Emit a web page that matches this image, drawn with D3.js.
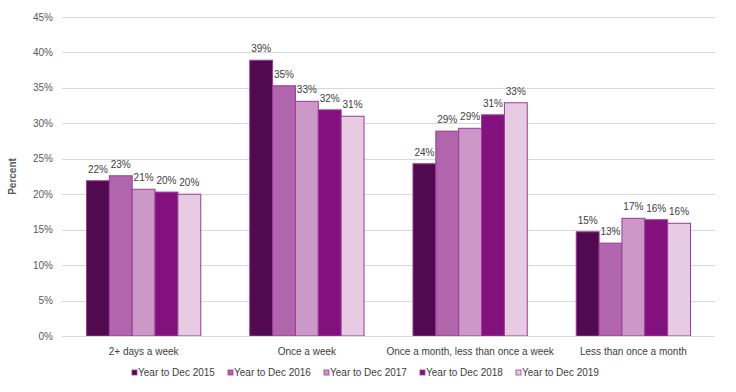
<!DOCTYPE html>
<html><head><meta charset="utf-8">
<script src="https://cdn.jsdelivr.net/npm/d3@7"></script>
<style>body{margin:0;background:#fff;} text{font-family:"Liberation Sans",Arial,sans-serif;}</style>
</head><body><svg id="c" width="736" height="392"></svg>
<script>
const categories = ["2+ days a week", "Once a week", "Once a month, less than once a week", "Less than once a month"];
const seriesNames = ["Year to Dec 2015", "Year to Dec 2016", "Year to Dec 2017", "Year to Dec 2018", "Year to Dec 2019"];
const y2015 = [21.9, 38.9, 24.3, 14.7];
const y2016 = [22.6, 35.3, 28.9, 13.1];
const y2017 = [20.7, 33.1, 29.3, 16.6];
const y2018 = [20.3, 31.9, 31.2, 16.4];
const y2019 = [20.0, 31.0, 32.9, 15.9];
const yTicks = [0, 5, 10, 15, 20, 25, 30, 35, 40, 45];
const colors = ["#510a4f", "#b165ad", "#cb98c8", "#82117e", "#e6cbe3"];

const seriesVals = [y2015, y2016, y2017, y2018, y2019];
const svg = d3.select("#c");
const L = 62, R = 715, T = 17, B = 336;
const y = d3.scaleLinear().domain([0, 45]).range([B, T]);
const x0 = d3.scaleBand().domain(categories).range([L, R]);
const bw = x0.bandwidth();
const x1 = d3.scaleBand().domain(seriesNames).range([bw * 0.15, bw * 0.85]);

svg.append("g").selectAll("line").data(yTicks).join("line")
  .attr("x1", L).attr("x2", R)
  .attr("y1", d => Math.round(y(d)) + 0.5).attr("y2", d => Math.round(y(d)) + 0.5)
  .attr("stroke", "#d9d9d9").attr("stroke-width", 1);

svg.append("g").selectAll("text").data(yTicks).join("text")
  .attr("x", 53).attr("y", d => y(d) + 3.5).attr("text-anchor", "end")
  .attr("font-size", 10).attr("fill", "#595959").text(d => d + "%");

svg.append("text").attr("transform", "translate(16," + ((T + B) / 2) + ") rotate(-90)")
  .attr("text-anchor", "middle").attr("font-size", 10).attr("font-weight", "bold")
  .attr("fill", "#595959").text("Percent");

seriesNames.forEach((s, si) => {
  const g = svg.append("g");
  g.selectAll("rect").data(categories).join("rect")
    .attr("x", c => x0(c) + x1(s))
    .attr("y", (c, i) => y(seriesVals[si][i]))
    .attr("width", x1.bandwidth())
    .attr("height", (c, i) => B - y(seriesVals[si][i]))
    .attr("fill", colors[si]).attr("stroke", "#9b3a97").attr("stroke-width", 1);
  g.selectAll("text").data(categories).join("text")
    .attr("x", c => x0(c) + x1(s) + x1.bandwidth() / 2)
    .attr("y", (c, i) => y(seriesVals[si][i]) - 8)
    .attr("text-anchor", "middle").attr("font-size", 10).attr("fill", "#404040")
    .text((c, i) => Math.round(seriesVals[si][i]) + "%");
});

svg.append("line").attr("x1", L).attr("x2", R).attr("y1", B + 0.5).attr("y2", B + 0.5)
  .attr("stroke", "#d9d9d9");

svg.append("g").selectAll("text").data(categories).join("text")
  .attr("x", c => x0(c) + bw / 2).attr("y", 355).attr("text-anchor", "middle")
  .attr("font-size", 10).attr("fill", "#404040").text(c => c);

const lg = svg.append("g").selectAll("g").data(seriesNames).join("g")
  .attr("transform", (d, i) => "translate(" + (132 + i * 96) + ",376)");
lg.append("rect").attr("x", 0).attr("y", -6).attr("width", 5).attr("height", 5)
  .attr("fill", (d, i) => colors[i]).attr("stroke", "#9b3a97").attr("stroke-width", 0.8);
lg.append("text").attr("x", 6).attr("y", 0).attr("font-size", 10).attr("fill", "#404040").text(d => d);
</script></body></html>
